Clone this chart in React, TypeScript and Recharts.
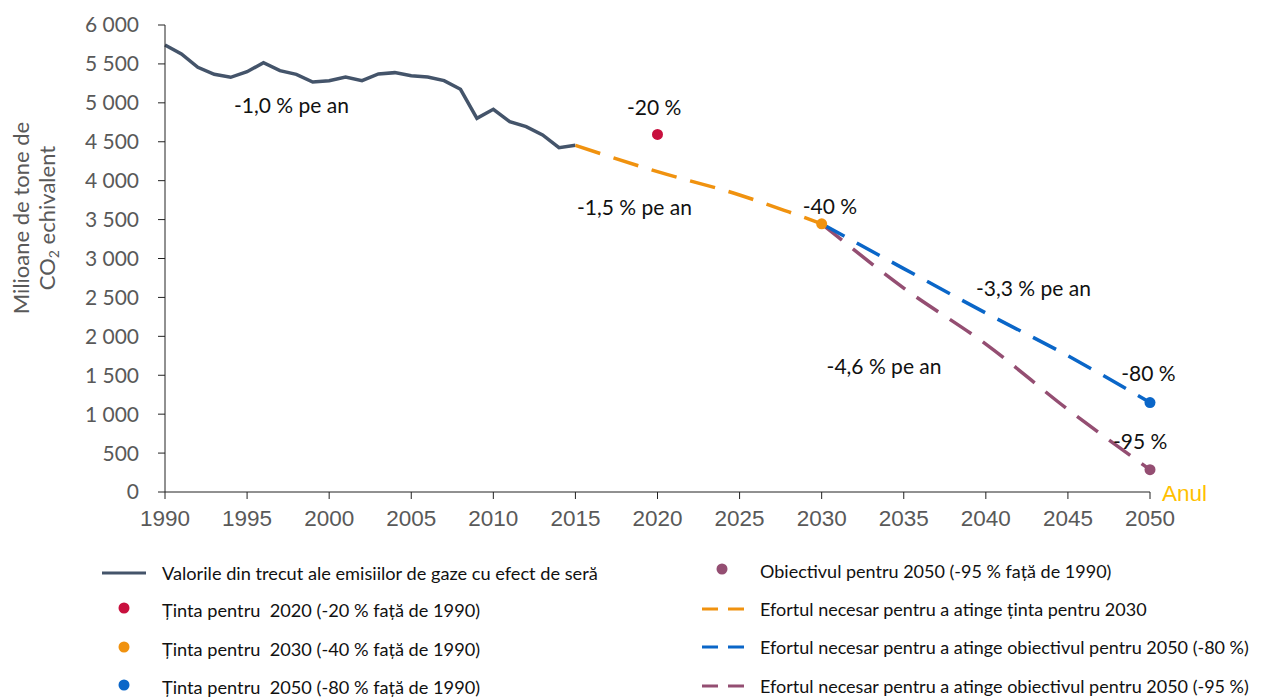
import React from "react";
import {
  ComposedChart,
  Line,
  Scatter,
  XAxis,
  YAxis,
  Label,
} from "recharts";

// ---------- data ----------
const histYears = [
  1990, 1991, 1992, 1993, 1994, 1995, 1996, 1997, 1998, 1999, 2000, 2001, 2002,
  2003, 2004, 2005, 2006, 2007, 2008, 2009, 2010, 2011, 2012, 2013, 2014, 2015,
];
const histValues = [
  5743, 5628, 5457, 5366, 5328, 5400, 5516, 5413, 5366, 5268, 5285, 5332, 5285,
  5371, 5388, 5349, 5332, 5285, 5174, 4801, 4917, 4758, 4694, 4587, 4424, 4454,
];

const path2030Years = [2015, 2020, 2025, 2028, 2030];
const path2030Values = [4454, 4116, 3816, 3598, 3446];

const path80Years = [2030, 2035, 2040, 2045, 2050];
const path80Values = [3446, 2870, 2300, 1750, 1149];

const path95Years = [2030, 2035, 2040, 2045, 2050];
const path95Values = [3446, 2620, 1900, 1060, 287];

const target2020 = [{ year: 2020, value: 4594 }];
const target2030 = [{ year: 2030, value: 3446 }];
const target2050a = [{ year: 2050, value: 1149 }];
const target2050b = [{ year: 2050, value: 287 }];

const annotTexts = [
  "-1,0 % pe an",
  "-20 %",
  "-1,5 % pe an",
  "-40 %",
  "-3,3 % pe an",
  "-4,6 % pe an",
  "-80 %",
  "-95 %",
];
const annotYears = [1997.7, 2019.8, 2018.6, 2030.5, 2042.9, 2033.8, 2049.9, 2049.4];
const annotValues = [4985, 4947, 3662, 3675, 2621, 1619, 1529, 668];

const xTicks = [1990, 1995, 2000, 2005, 2010, 2015, 2020, 2025, 2030, 2035, 2040, 2045, 2050];
const yTicks = [0, 500, 1000, 1500, 2000, 2500, 3000, 3500, 4000, 4500, 5000, 5500, 6000];

const legendLeft = [
  { kind: "line", color: "#44546A", text: "Valorile din trecut ale emisiilor de gaze cu efect de seră" },
  { kind: "dot", color: "#C8103E", text: "Ținta pentru  2020 (-20 % față de 1990)" },
  { kind: "dot", color: "#F0920F", text: "Ținta pentru  2030 (-40 % față de 1990)" },
  { kind: "dot", color: "#0A66C8", text: "Ținta pentru  2050 (-80 % față de 1990)" },
];
const legendRight = [
  { kind: "dot", color: "#944E72", text: "Obiectivul pentru 2050 (-95 % față de 1990)" },
  { kind: "dash", color: "#F0920F", text: "Efortul necesar pentru a atinge ținta pentru 2030" },
  { kind: "dash", color: "#0A66C8", text: "Efortul necesar pentru a atinge obiectivul pentru 2050 (-80 %)" },
  { kind: "dash", color: "#944E72", text: "Efortul necesar pentru a atinge obiectivul pentru 2050 (-95 %)" },
];

// ---------- helpers ----------
const toRows = (ys: number[], vs: number[]) => ys.map((y, i) => ({ year: y, value: vs[i] }));
const histData = toRows(histYears, histValues);
const p2030Data = toRows(path2030Years, path2030Values);
const p80Data = toRows(path80Years, path80Values);
const p95Data = toRows(path95Years, path95Values);
const annotData = annotTexts.map((t, i) => ({ year: annotYears[i], value: annotValues[i], text: t }));

const fmt = (v: number) => {
  const s = String(v);
  return s.length > 3 ? s.slice(0, s.length - 3) + " " + s.slice(s.length - 3) : s;
};

const C = {
  hist: "#44546A",
  red: "#C8103E",
  orange: "#F0920F",
  blue: "#0A66C8",
  purple: "#944E72",
};

const FONT = "Lato, 'Noto Sans', sans-serif";
const XFONT = "'Liberation Sans', Arial, sans-serif";

const dotShape = (color: string) => (p: any) => (
  <circle cx={p.cx} cy={p.cy} r={5.5} fill={color} />
);

const textShape = (p: any) => (
  <text
    x={p.cx}
    y={p.cy}
    textAnchor="middle"
    dominantBaseline="central"
    fontFamily={FONT}
    fontSize={21}
    fill="#111"
  >
    {p.payload.text}
  </text>
);

const LegendIcon = ({ kind, color }: { kind: string; color: string }) => (
  <svg width={48} height={16} style={{ display: "block" }}>
    {kind === "line" && <line x1={2} y1={8} x2={46} y2={8} stroke={color} strokeWidth={3} />}
    {kind === "dot" && <circle cx={24} cy={6} r={5.5} fill={color} />}
    {kind === "dash" && (
      <line x1={4} y1={8} x2={46} y2={8} stroke={color} strokeWidth={3} strokeDasharray="16 10" />
    )}
  </svg>
);

const LegendCol = ({
  items,
  left,
  tops,
  fontSize,
}: {
  items: any[];
  left: number;
  tops: number[];
  fontSize: number;
}) => (
  <>
    {items.map((it, i) => (
      <div
        key={i}
        style={{
          position: "absolute",
          left,
          top: tops[i],
          display: "flex",
          alignItems: "center",
          fontFamily: FONT,
          fontSize,
          color: "#111",
          whiteSpace: "pre",
          height: 24,
          lineHeight: "24px",
        }}
      >
        <LegendIcon kind={it.kind} color={it.color} />
        <span style={{ marginLeft: 14 }}>{it.text}</span>
      </div>
    ))}
  </>
);

export default function App() {
  return (
    <div style={{ position: "relative", width: 1248, height: 691 }}>
      <ComposedChart
        width={1248}
        height={540}
        margin={{ top: 17, right: 106, left: 0, bottom: 16 }}
      >
        <XAxis
          dataKey="year"
          type="number"
          domain={[1990, 2050]}
          ticks={xTicks}
          interval={0}
          allowDuplicatedCategory={false}
          height={40}
          tickSize={7}
          tickMargin={11}
          stroke="#222"
          tick={{ fill: "#595959", fontSize: 22.5, fontFamily: XFONT }}
          label={{
            content: (props: any) => {
              const vb = props.viewBox;
              return (
                <text
                  x={vb.x + vb.width + 12}
                  y={vb.y + 1}
                  dominantBaseline="central"
                  fill="#FFC000"
                  fontSize={22.5}
                  fontFamily={XFONT}
                >
                  Anul
                </text>
              );
            },
          }}
        />
        <YAxis
          dataKey="value"
          type="number"
          domain={[0, 6000]}
          ticks={yTicks}
          interval={0}
          width={157}
          tickSize={7}
          tickMargin={19}
          stroke="#222"
          tickFormatter={fmt}
          tick={{ fill: "#595959", fontSize: 21, fontFamily: FONT }}
        >
          <Label
            content={(props: any) => {
              const vb = props.viewBox;
              const cy = vb.y + 193;
              return (
                <g fill="#595959" fontFamily={FONT} fontSize={22}>
                  <text x={21} y={cy} textAnchor="middle" transform={`rotate(-90, 21, ${cy})`}>
                    Milioane de tone de
                  </text>
                  <text x={47} y={cy} textAnchor="middle" transform={`rotate(-90, 47, ${cy})`}>
                    CO<tspan fontSize={14} dy={4}>2</tspan>
                    <tspan dy={-4}> echivalent</tspan>
                  </text>
                </g>
              );
            }}
          />
        </YAxis>

        <Line
          data={histData}
          dataKey="value"
          type="linear"
          stroke={C.hist}
          strokeWidth={3.5}
          dot={false}
          isAnimationActive={false}
        />
        <Line
          data={p95Data}
          dataKey="value"
          type="monotone"
          stroke={C.purple}
          strokeWidth={3.5}
          strokeDasharray="26 14"
          dot={false}
          isAnimationActive={false}
        />
        <Line
          data={p80Data}
          dataKey="value"
          type="monotone"
          stroke={C.blue}
          strokeWidth={3.5}
          strokeDasharray="26 14"
          dot={false}
          isAnimationActive={false}
        />
        <Line
          data={p2030Data}
          dataKey="value"
          type="monotone"
          stroke={C.orange}
          strokeWidth={3.5}
          strokeDasharray="26 14"
          dot={false}
          isAnimationActive={false}
        />
        <Scatter data={target2020} dataKey="value" shape={dotShape(C.red)} isAnimationActive={false} />
        <Scatter data={target2030} dataKey="value" shape={dotShape(C.orange)} isAnimationActive={false} />
        <Scatter data={target2050a} dataKey="value" shape={dotShape(C.blue)} isAnimationActive={false} />
        <Scatter data={target2050b} dataKey="value" shape={dotShape(C.purple)} isAnimationActive={false} />
        <Scatter data={annotData} dataKey="value" shape={textShape} isAnimationActive={false} />
      </ComposedChart>

      <LegendCol items={legendLeft} left={92} tops={[553, 590, 629, 667]} fontSize={18.2} />
      <LegendCol items={legendRight} left={690} tops={[551, 589, 627, 666]} fontSize={18} />
    </div>
  );
}
